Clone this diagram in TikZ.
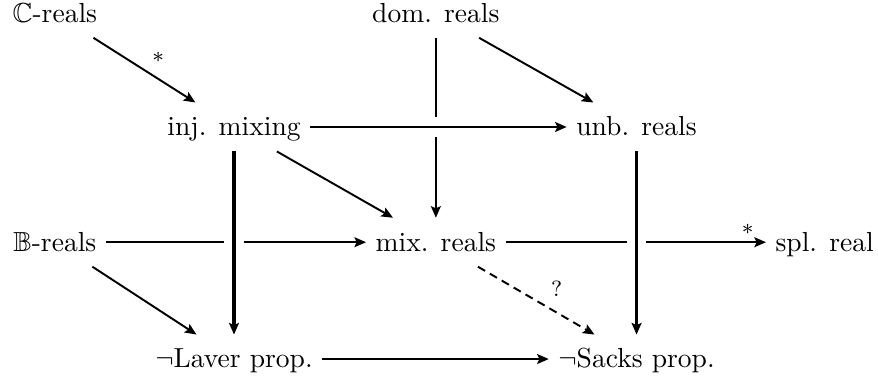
\documentclass[tikz,border=0pt]{standalone}
\usepackage{amssymb}
\usetikzlibrary{arrows.meta}
\begin{document}
\begin{tikzpicture}[x=1cm,y=1cm,>={Stealth[length=4.2pt,width=3.6pt,inset=0.8pt]},
  obj/.style={text height=2ex,text depth=0.5ex,inner sep=3.3pt},
  arr/.style={->,line width=0.7pt},
  thk/.style={->,line width=1.1pt},
  over/.style={preaction={draw=white,line width=7pt,-}},
  lbl/.style={font=\footnotesize,inner sep=2.5pt}]
\useasboundingbox (0,0) rectangle (11.2,4.86);
% the reals
\node[obj] (Cr) at (0.70,4.69) {$\mathbb{C}$-reals};
\node[obj] (dom) at (5.56,4.69) {dom. reals};
\node[obj] (inj) at (2.985,3.24) {inj. mixing};
\node[obj] (unb) at (8.12,3.24) {unb. reals};
\node[obj] (Br) at (0.70,1.77) {$\mathbb{B}$-reals};
\node[obj] (mix) at (5.56,1.77) {mix. reals};
\node[obj] (spl) at (10.52,1.77) {spl. real};
\node[obj] (lav) at (2.985,0.28) {$\neg$Laver prop.};
\node[obj] (sck) at (8.12,0.28) {$\neg$Sacks prop.};
% lines that pass under others first
\draw[arr] (dom) -- (mix);
\draw[arr] (Br) -- (mix);
\draw[arr] (mix) -- node[lbl,pos=0.93,above] {$\ast$} (spl);
\draw[arr,over] (inj) -- (unb);
\draw[thk,over] (inj) -- (lav);
\draw[thk,over] (unb) -- (sck);
% the rest
\draw[arr] (Cr) -- node[lbl,auto] {$\ast$} (inj);
\draw[arr] (dom) -- (unb);
\draw[arr] (inj) -- (mix);
\draw[arr] (Br) -- (lav);
\draw[arr,dash pattern=on 3pt off 2pt] (mix) -- node[lbl,pos=0.56,auto] {?} (sck);
\draw[arr] (lav) -- (sck);
\end{tikzpicture}
\end{document}
